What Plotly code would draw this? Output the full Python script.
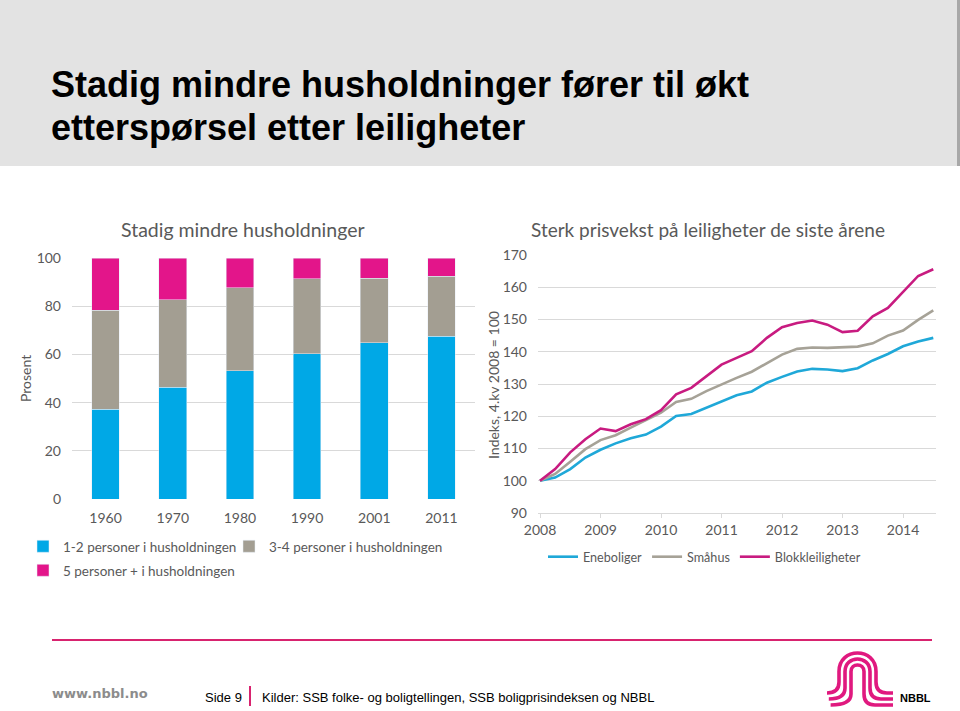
import plotly.graph_objects as go

W, H = 960, 711

# ---------------- data ----------------
census_years = ['1960', '1970', '1980', '1990', '2001', '2011']
pers_1_2 = [37.2, 46.3, 53.3, 60.2, 64.8, 67.5]
pers_3_4 = [41.1, 36.4, 34.3, 31.2, 26.9, 25.0]
pers_5p = [21.7, 17.3, 12.4, 8.6, 8.3, 7.5]

n_quarters = 27          # 4.kv 2008 .. 2.kv 2015 (plotted from 2008)
start_year = 2008
eneboliger = [100.0, 101.0, 103.6, 107.2, 109.6, 111.6, 113.2, 114.3, 116.8, 120.1,
              120.7, 122.7, 124.7, 126.5, 127.7, 130.4, 132.2, 133.9, 134.7, 134.5,
              134.0, 134.9, 137.3, 139.3, 141.7, 143.2, 144.3]
smahus = [100.0, 102.1, 105.9, 109.8, 112.6, 114.1, 116.5, 118.8, 121.1, 124.4,
          125.4, 127.8, 129.9, 131.9, 133.8, 136.4, 139.1, 140.9, 141.3, 141.2,
          141.4, 141.6, 142.6, 145.0, 146.6, 149.9, 152.8]
blokk = [100.0, 103.6, 108.8, 112.9, 116.2, 115.4, 117.5, 119.1, 121.9, 126.8,
         128.8, 132.4, 136.0, 138.1, 140.2, 144.3, 147.6, 148.9, 149.7, 148.4,
         146.1, 146.5, 151.0, 153.6, 158.4, 163.5, 165.6]
quarter_x = [start_year + i / 4 for i in range(n_quarters)]

# ---------------- style ----------------
C_BLUE = '#00A8E6'
C_GRAY = '#A39E92'
C_PINK = '#E3158A'
L_BLUE = '#1FA8D8'
L_GRAY = '#A6A297'
L_PINK = '#C81B80'
TXT = '#595959'
GRID = '#D9D9D9'
CF = 'Lato, Carlito, Calibri, sans-serif'
AF = 'Liberation Sans, Arial, sans-serif'


def px(x, y):
    return x / W, 1 - y / H


fig = go.Figure()

fig.add_trace(go.Bar(x=census_years, y=pers_1_2, name='1-2 personer i husholdningen',
                     marker_color=C_BLUE, xaxis='x', yaxis='y', legend='legend'))
fig.add_trace(go.Bar(x=census_years, y=pers_3_4, name='3-4 personer i husholdningen',
                     marker_color=C_GRAY, xaxis='x', yaxis='y', legend='legend4'))
fig.add_trace(go.Bar(x=census_years, y=pers_5p, name='5 personer + i husholdningen',
                     marker_color=C_PINK, xaxis='x', yaxis='y', legend='legend2'))

fig.add_trace(go.Scatter(x=quarter_x, y=eneboliger, name='Eneboliger', mode='lines',
                         line=dict(color=L_BLUE, width=2.6), xaxis='x2', yaxis='y2', legend='legend3'))
fig.add_trace(go.Scatter(x=quarter_x, y=smahus, name='Småhus', mode='lines',
                         line=dict(color=L_GRAY, width=2.6), xaxis='x2', yaxis='y2', legend='legend3'))
fig.add_trace(go.Scatter(x=quarter_x, y=blokk, name='Blokkleiligheter', mode='lines',
                         line=dict(color=L_PINK, width=2.6), xaxis='x2', yaxis='y2', legend='legend3'))

tickfont = dict(family=CF, size=14, color=TXT)
legfont_l = dict(family=CF, size=13.5, color=TXT)
legfont_r = dict(family=CF, size=12.6, color=TXT)


def leg(x, y, font):
    return dict(orientation='h', x=x / W, y=1 - y / H, xanchor='left', yanchor='top',
                font=font, bgcolor='rgba(0,0,0,0)', itemwidth=30, traceorder='normal')


fig.update_layout(
    width=W, height=H, autosize=False,
    margin=dict(l=0, r=0, t=0, b=0, pad=0, autoexpand=False),
    paper_bgcolor='white', plot_bgcolor='white',
    barmode='stack', bargap=0.59,
    xaxis=dict(domain=[72 / W, 475 / W], type='category', showgrid=False, zeroline=False,
               ticks='', tickfont=tickfont, anchor='y', ticklabelstandoff=9, automargin=False),
    yaxis=dict(domain=[1 - 499 / H, 1 - 258 / H], range=[0, 100], dtick=20,
               gridcolor=GRID, gridwidth=1, zeroline=False, showline=False,
               tickfont=tickfont, anchor='x', ticklabelstandoff=10, automargin=False),
    xaxis2=dict(domain=[538 / W, 936 / W], range=[2007.967, 2014.545], tick0=2008, dtick=1,
                showgrid=False, zeroline=False, showline=True, linecolor=GRID, linewidth=1,
                ticks='outside', ticklen=4, tickcolor=GRID, tickfont=tickfont, anchor='y2',
                ticklabelstandoff=0, automargin=False),
    yaxis2=dict(domain=[1 - 513 / H, 1 - 255 / H], range=[90, 170], dtick=10,
                gridcolor=GRID, gridwidth=1, zeroline=False, showline=False,
                tickfont=tickfont, anchor='x2', ticklabelstandoff=10, automargin=False),
    showlegend=True,
    legend=leg(23, 531, legfont_l),
    legend4=leg(229, 531, legfont_l),
    legend2=leg(23, 555, legfont_l),
    legend3=leg(543, 542, legfont_r),
)

shapes = []
# header band
shapes.append(dict(type='rect', xref='paper', yref='paper', x0=0, x1=1,
                   y0=1 - 166 / H, y1=1, fillcolor='#E3E3E3', line=dict(width=0), layer='below'))
shapes.append(dict(type='rect', xref='paper', yref='paper', x0=957 / W, x1=1,
                   y0=1 - 166 / H, y1=1, fillcolor='#A8A8A8', line=dict(width=0), layer='below'))
# footer rule
shapes.append(dict(type='line', xref='paper', yref='paper', x0=52 / W, x1=932 / W,
                   y0=1 - 640 / H, y1=1 - 640 / H, line=dict(color='#D8236F', width=2)))
# small separator in footer
shapes.append(dict(type='line', xref='paper', yref='paper', x0=250 / W, x1=250 / W,
                   y0=1 - 686 / H, y1=1 - 706 / H, line=dict(color='#D8236F', width=2)))

# NBBL logo (three parallel strokes forming an arch with flared feet)
Lx, Rx, Ty, By = 845, 870, 659, 699
for d in (6, 0, -6):
    xl, xr, yt, yb = Lx - d, Rx + d, Ty - d, By - d
    h = (xr - xl) / 2
    pts = [
        ('M', [(827 + (6 - d) * 0.3, yb)]),
        ('Q', [(xl, yb), (xl, yb - 11)]),
        ('L', [(xl, yt + h)]),
        ('C', [(xl, yt - h / 3), (xr, yt - h / 3), (xr, yt + h)]),
        ('L', [(xr, yb - 11)]),
        ('Q', [(xr, yb), (xr + 11, yb)]),
        ('L', [(893, yb)]),
    ]
    path = ''
    for cmd, coords in pts:
        path += cmd + ' ' + ' '.join('%.5f,%.5f' % px(a, b) for a, b in coords) + ' '
    shapes.append(dict(type='path', xref='paper', yref='paper', path=path.strip(),
                       line=dict(color='#E0197F', width=3.6)))

fig.update_layout(shapes=shapes)

ann = []


def add_text(text, x, y, size, color, family, xanchor='left', yanchor='middle', angle=0, bold=False):
    t = '<b>%s</b>' % text if bold else text
    ann.append(dict(text=t, x=x / W, y=1 - y / H, xref='paper', yref='paper', showarrow=False,
                    xanchor=xanchor, yanchor=yanchor, textangle=angle,
                    font=dict(size=size, color=color, family=family)))


# slide title
add_text('Stadig mindre husholdninger fører til økt', 49, 85, 36, 'black', AF, bold=True)
add_text('etterspørsel etter leiligheter', 49, 127, 36, 'black', AF, bold=True)

# chart titles
add_text('Stadig mindre husholdninger', 243, 230, 19.5, TXT, CF, xanchor='center')
add_text('Sterk prisvekst på leiligheter de siste årene', 708, 229, 19, TXT, CF, xanchor='center')

# axis titles
add_text('Prosent', 25, 379, 14, TXT, CF, xanchor='center', angle=-90)
add_text('Indeks, 4.kv 2008 = 100', 493, 385, 14, TXT, CF, xanchor='center', angle=-90)

# footer
add_text('www.nbbl.no', 50, 693, 13, '#8C8C8C', 'DejaVu Sans, Verdana, sans-serif', bold=True)
add_text('Side 9', 203, 697, 13, 'black', AF)
add_text('Kilder: SSB folke- og boligtellingen, SSB boligprisindeksen og NBBL', 260, 697, 13, 'black', AF)
add_text('NBBL', 898, 698, 11, 'black', AF, bold=True)

fig.update_layout(annotations=ann)

fig.write_html('out.html', config={'displayModeBar': False},
               post_script="document.body.style.margin='0px';")
